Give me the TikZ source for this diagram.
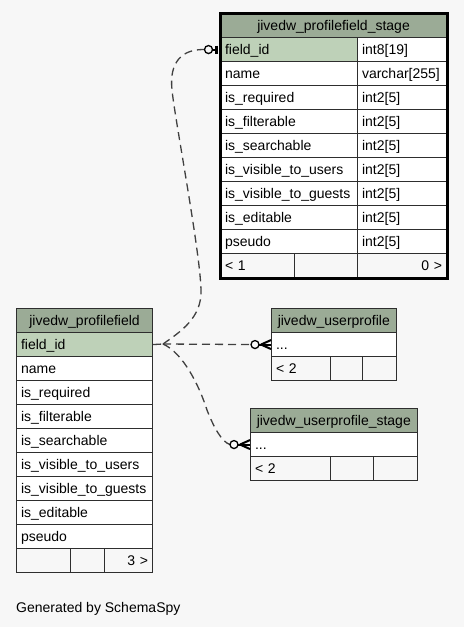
\documentclass[tikz,border=0pt]{standalone}
\usepackage{fontspec}
\setmainfont{Liberation Sans}
\definecolor{bg}{HTML}{F7F7F7}
\definecolor{hdr}{HTML}{9BAB96}
\definecolor{keyc}{HTML}{BED1B8}
\definecolor{ln}{HTML}{2E2E2E}
\definecolor{cn}{HTML}{404040}
\tikzset{
  cell/.style={draw=ln, line width=1.1pt, rectangle, anchor=north west,
    inner xsep=4.5pt, inner ysep=0pt, minimum height=24pt,
    text height=16.5pt, text depth=7.5pt, font=\fontsize{14}{16}\selectfont},
  hdrcell/.style={cell, fill=hdr, align=center},
  keycell/.style={cell, fill=keyc, align=left},
  rowcell/.style={cell, fill=white, align=left},
  footcell/.style={cell, fill=bg, align=left},
  footr/.style={cell, fill=bg, align=right},
  conn/.style={draw=cn, line width=1.3pt, dash pattern=on 8pt off 5pt},
  ringmk/.style={draw=black, line width=1.3pt, fill=bg},
  crowmk/.style={draw=black, line width=2pt},
  barmk/.style={draw=black, line width=3pt},
  focusbox/.style={draw=black, line width=3pt}
}
\newcommand\cel[6]{\node[#1, text width=#5pt] (#2) at (#3,#4) {#6};}
\begin{document}
\begin{tikzpicture}[x=1pt,y=-1pt]
\path[fill=bg, use as bounding box] (0,0) rectangle (464,627);

% ---- jivedw_profilefield_stage ----
\cel{hdrcell}{pfs_hdr}{220}{13}{217}{jivedw\_profilefield\_stage}
\cel{keycell}{pfs_key}{220}{37}{128}{field\_id}
\cel{rowcell}{pfs_keyt}{357}{37}{80}{int8[19]}
\cel{rowcell}{pfs_r1}{220}{61}{128}{name}
\cel{rowcell}{pfs_r1t}{357}{61}{80}{varchar[255]}
\cel{rowcell}{pfs_r2}{220}{85}{128}{is\_required}
\cel{rowcell}{pfs_r2t}{357}{85}{80}{int2[5]}
\cel{rowcell}{pfs_r3}{220}{109}{128}{is\_filterable}
\cel{rowcell}{pfs_r3t}{357}{109}{80}{int2[5]}
\cel{rowcell}{pfs_r4}{220}{133}{128}{is\_searchable}
\cel{rowcell}{pfs_r4t}{357}{133}{80}{int2[5]}
\cel{rowcell}{pfs_r5}{220}{157}{128}{is\_visible\_to\_users}
\cel{rowcell}{pfs_r5t}{357}{157}{80}{int2[5]}
\cel{rowcell}{pfs_r6}{220}{181}{128}{is\_visible\_to\_guests}
\cel{rowcell}{pfs_r6t}{357}{181}{80}{int2[5]}
\cel{rowcell}{pfs_r7}{220}{205}{128}{is\_editable}
\cel{rowcell}{pfs_r7t}{357}{205}{80}{int2[5]}
\cel{rowcell}{pfs_r8}{220}{229}{128}{pseudo}
\cel{rowcell}{pfs_r8t}{357}{229}{80}{int2[5]}
\cel{footcell}{pfs_f1}{220}{253}{65}{< 1}
\cel{footcell}{pfs_f2}{294}{253}{54}{}
\cel{footr}{pfs_f3}{357}{253}{80}{0 >}
\draw[focusbox] (pfs_hdr.north west) rectangle (pfs_f3.south east);

% ---- jivedw_profilefield ----
\cel{hdrcell}{pf_hdr}{16}{308}{127}{jivedw\_profilefield}
\cel{keycell}{pf_key}{16}{332}{127}{field\_id}
\cel{rowcell}{pf_r1}{16}{356}{127}{name}
\cel{rowcell}{pf_r2}{16}{380}{127}{is\_required}
\cel{rowcell}{pf_r3}{16}{404}{127}{is\_filterable}
\cel{rowcell}{pf_r4}{16}{428}{127}{is\_searchable}
\cel{rowcell}{pf_r5}{16}{452}{127}{is\_visible\_to\_users}
\cel{rowcell}{pf_r6}{16}{476}{127}{is\_visible\_to\_guests}
\cel{rowcell}{pf_r7}{16}{500}{127}{is\_editable}
\cel{rowcell}{pf_r8}{16}{524}{127}{pseudo}
\cel{footcell}{pf_f1}{16}{548}{44.5}{}
\cel{footcell}{pf_f2}{69.5}{548}{25.5}{}
\cel{footr}{pf_f3}{104}{548}{39}{3 >}

% ---- jivedw_userprofile ----
\cel{hdrcell}{up_hdr}{271}{308}{115.5}{jivedw\_userprofile}
\cel{rowcell}{up_row}{271}{332}{115.5}{...}
\cel{footcell}{up_f1}{271}{356}{50}{< 2}
\cel{footcell}{up_f2}{330}{356}{23}{}
\cel{footcell}{up_f3}{362}{356}{24.5}{}

% ---- jivedw_userprofile_stage ----
\cel{hdrcell}{ups_hdr}{250}{408}{157.5}{jivedw\_userprofile\_stage}
\cel{rowcell}{ups_row}{250}{432}{157.5}{...}
\cel{footcell}{ups_f1}{250}{456}{71}{< 2}
\cel{footcell}{ups_f2}{330}{456}{34}{}
\cel{footcell}{ups_f3}{373}{456}{34.5}{}

% ---- connectors ----
\coordinate (jn) at (163,344);
\draw[conn] (pf_key.east) -- (jn);

% to jivedw_userprofile
\draw[conn] (jn) -- ([xshift=-20pt]up_row.west);
\draw[crowmk] ([xshift=-12pt]up_row.west) -- (up_row.west);
\draw[crowmk] ([xshift=-10pt]up_row.west) -- ([yshift=4.5pt]up_row.west)
  ([xshift=-10pt]up_row.west) -- ([yshift=-4.5pt]up_row.west);
\draw[ringmk] ([xshift=-16pt]up_row.west) circle[radius=4pt];

% to jivedw_userprofile_stage
\draw[conn] (jn) .. controls (183,353) and (199,385) .. (207,410)
  .. controls (214,428) and (222,442) .. ([xshift=-20pt]ups_row.west);
\draw[crowmk] ([xshift=-12pt]ups_row.west) -- (ups_row.west);
\draw[crowmk] ([xshift=-10pt]ups_row.west) -- ([yshift=4.5pt]ups_row.west)
  ([xshift=-10pt]ups_row.west) -- ([yshift=-4.5pt]ups_row.west);
\draw[ringmk] ([xshift=-16pt]ups_row.west) circle[radius=4pt];

% to jivedw_profilefield_stage
\draw[conn] (jn) .. controls (180,332) and (202,318) .. (201,290)
  .. controls (200,250) and (175,120) .. (172,90)
  .. controls (169,62) and (182,49) .. ([xshift=-15.5pt]pfs_key.west);
\draw[crowmk] ([xshift=-8pt]pfs_key.west) -- ([xshift=-2pt]pfs_key.west);
\draw[barmk] ([xshift=-3.5pt,yshift=4pt]pfs_key.west) -- ([xshift=-3.5pt,yshift=-4pt]pfs_key.west);
\draw[ringmk] ([xshift=-11.5pt]pfs_key.west) circle[radius=4pt];

\node[anchor=base west, inner sep=0pt, font=\fontsize{14}{16}\selectfont] (gen) at (16,612.5) {Generated by SchemaSpy};
\end{tikzpicture}
\end{document}
